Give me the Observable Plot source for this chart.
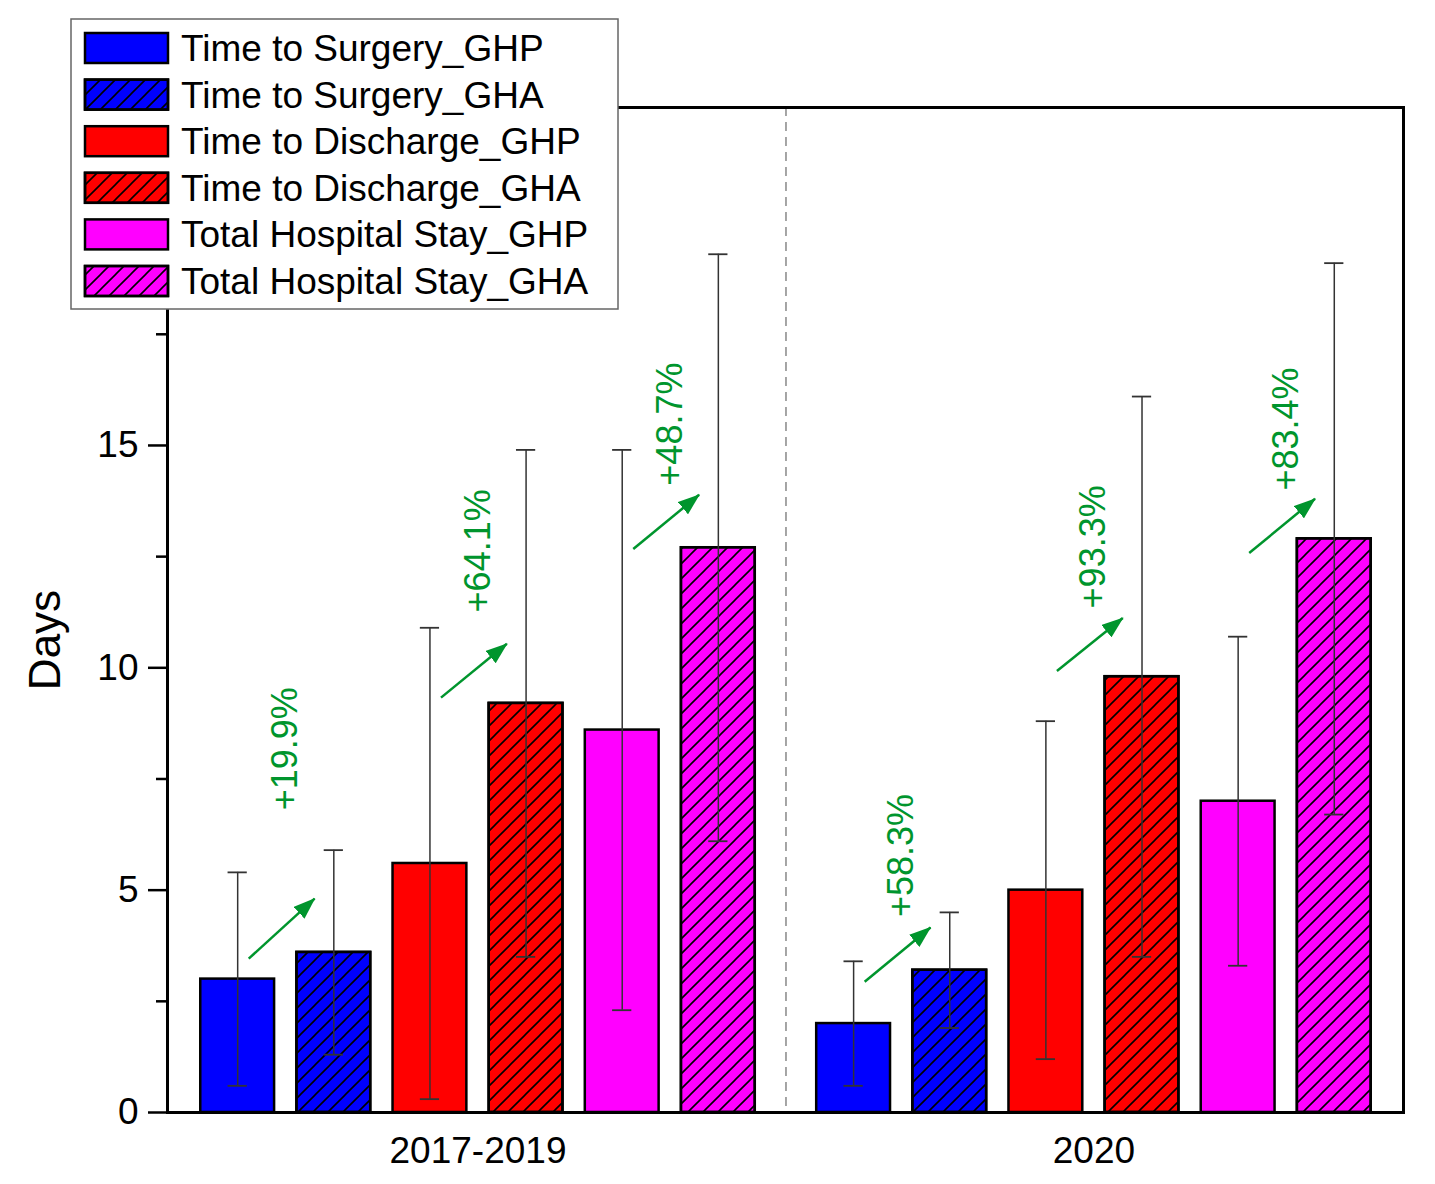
<!DOCTYPE html>
<html>
<head>
<meta charset="utf-8">
<script src="https://cdn.jsdelivr.net/npm/d3@7"></script>
<script src="https://cdn.jsdelivr.net/npm/@observablehq/plot@0.6"></script>
<style>
  html, body { margin: 0; padding: 0; background: #fff; }
  #chart { position: relative; width: 1435px; height: 1184px; }
</style>
</head>
<body>
<div id="chart"></div>
<script>
// ---- data ----
const groups = ["2017-2019", "2020"];
const series = [
  "Time to Surgery_GHP", "Time to Surgery_GHA",
  "Time to Discharge_GHP", "Time to Discharge_GHA",
  "Total Hospital Stay_GHP", "Total Hospital Stay_GHA"
];
const seriesColors = ["#0000ff", "#0000ff", "#ff0000", "#ff0000", "#ff00ff", "#ff00ff"];
const seriesHatched = [false, true, false, true, false, true];

const means2017 = [3.0, 3.6, 5.6, 9.2, 8.6, 12.7];
const sd2017    = [2.4, 2.3, 5.3, 5.7, 6.3, 6.6];
const means2020 = [2.0, 3.2, 5.0, 9.8, 7.0, 12.9];
const sd2020    = [1.4, 1.3, 3.8, 6.3, 3.7, 6.2];

// percentage-increase annotations (GHP -> GHA), per group
const pct2017 = ["+19.9%", "+64.1%", "+48.7%"];
const pct2020 = ["+58.3%", "+93.3%", "+83.4%"];
const arrowFrom2017 = [3.46, 9.33, 12.67];
const arrowTo2017   = [4.81, 10.54, 13.89];
const arrowFrom2020 = [2.94, 9.93, 12.58];
const arrowTo2020   = [4.16, 11.12, 13.80];
const labelY2017 = [8.18, 12.63, 15.48];
const labelY2020 = [5.78, 12.72, 15.37];

const yMajorTicks = [0, 5, 10, 15, 20];
const yMinorTicks = [2.5, 7.5, 12.5, 17.5];

// ---- layout ----
const G = 6.407;        // group spacing in bar steps
const halfBar = 0.384;  // half bar width in bar steps
const capHalf = 0.1;
const green = "#00952d";
const font = "'Liberation Sans', Arial, sans-serif";

const meansAll = [means2017, means2020];
const sdAll = [sd2017, sd2020];
const rows = groups.flatMap((g, gi) => series.map((s, i) => ({
  group: g, series: s, pos: gi * G + i,
  mean: meansAll[gi][i], sd: sdAll[gi][i],
  color: seriesColors[i], hatched: seriesHatched[i]
})));

const pctAll = [pct2017, pct2020];
const fromAll = [arrowFrom2017, arrowFrom2020];
const toAll = [arrowTo2017, arrowTo2020];
const labAll = [labelY2017, labelY2020];
const notes = groups.flatMap((g, gi) => [0, 1, 2].map(k => ({
  x1: gi * G + 2 * k + 0.115,
  x2: gi * G + 2 * k + 1 - 0.2,
  y1: fromAll[gi][k], y2: toAll[gi][k],
  lx: gi * G + 2 * k + 0.5, ly: labAll[gi][k],
  text: pctAll[gi][k]
})));

const svg = Plot.plot({
  width: 1435,
  height: 1184,
  marginLeft: 167,
  marginRight: 32,
  marginTop: 107,
  marginBottom: 72,
  style: { fontFamily: font, color: "#000", background: "#fff" },
  x: { domain: [-0.73, G + 5 + 0.72], axis: null },
  y: { domain: [0, 22.6], axis: null },
  color: { type: "identity" },
  marks: [
    Plot.ruleX([G / 2 + 2.5], { stroke: "#888", strokeWidth: 1.5, strokeDasharray: "9,6" }),
    Plot.rectY(rows, { x1: d => d.pos - halfBar, x2: d => d.pos + halfBar, y1: 0, y2: "mean",
      fill: "color", stroke: "#000", strokeWidth: 2.5 }),
    Plot.rectY(rows.filter(d => d.hatched), { x1: d => d.pos - halfBar, x2: d => d.pos + halfBar, y1: 0, y2: "mean",
      fill: "url(#hatch)", stroke: "#000", strokeWidth: 2.5 }),
    Plot.ruleX(rows, { x: "pos", y1: d => d.mean - d.sd, y2: d => d.mean + d.sd, stroke: "#333", strokeWidth: 1.5 }),
    Plot.ruleY(rows, { y: d => d.mean + d.sd, x1: d => d.pos - capHalf, x2: d => d.pos + capHalf, stroke: "#333", strokeWidth: 1.8 }),
    Plot.ruleY(rows, { y: d => d.mean - d.sd, x1: d => d.pos - capHalf, x2: d => d.pos + capHalf, stroke: "#333", strokeWidth: 1.8 }),
    Plot.link(notes, { x1: "x1", y1: "y1", x2: "x2", y2: "y2", stroke: green, strokeWidth: 2.5 }),
    Plot.text(notes, { x: "lx", y: "ly", text: "text", rotate: -90, fill: green, fontSize: 36,
      textAnchor: "middle", lineAnchor: "middle" }),
    Plot.axisY({ ticks: yMajorTicks, tickSize: 19, tickPadding: 10, fontSize: 37, label: null, strokeWidth: 2.5 }),
    Plot.axisY({ ticks: yMinorTicks, tickSize: 11, tickFormat: () => "", label: null, strokeWidth: 2.5 }),
    Plot.axisX({ ticks: [2.5, G + 2.5], tickFormat: d => groups[Math.round((d - 2.5) / G)], tickSize: 0,
      tickPadding: 24, fontSize: 37, label: null }),
    Plot.text(["Days"], { frameAnchor: "left", dx: -122, dy: 30, rotate: -90, fontSize: 44,
      textAnchor: "middle", lineAnchor: "middle", text: d => d }),
    Plot.frame({ stroke: "#000", strokeWidth: 3 })
  ]
});

// pattern & arrowhead defs
const sel = d3.select(svg);
const defs = sel.insert("defs", ":first-child");
const pat = defs.append("pattern").attr("id", "hatch").attr("patternUnits", "userSpaceOnUse")
  .attr("width", 15).attr("height", 15);
pat.append("path").attr("d", "M0,15 l15,-15 M-3.75,3.75 l7.5,-7.5 M11.25,18.75 l7.5,-7.5")
  .attr("stroke", "#000").attr("stroke-width", 1.6).attr("fill", "none");
defs.append("marker").attr("id", "ah").attr("viewBox", "0 0 22 16").attr("refX", 21).attr("refY", 8)
  .attr("markerWidth", 22).attr("markerHeight", 16).attr("markerUnits", "userSpaceOnUse").attr("orient", "auto")
  .append("path").attr("d", "M0,0 L22,8 L0,16 Z").attr("fill", green);
sel.selectAll('g[aria-label="link"] path').attr("marker-end", "url(#ah)");

// legend (on top of the plot)
const lg = sel.append("g").attr("transform", "translate(71,19)");
lg.append("rect").attr("width", 547).attr("height", 290).attr("fill", "#fff")
  .attr("stroke", "#666").attr("stroke-width", 1.5);
series.forEach((s, i) => {
  const cy = 29 + i * 46.6;
  lg.append("rect").attr("x", 14).attr("y", cy - 15).attr("width", 83).attr("height", 30)
    .attr("fill", seriesColors[i]).attr("stroke", "#000").attr("stroke-width", 2.5);
  if (seriesHatched[i]) {
    lg.append("rect").attr("x", 14).attr("y", cy - 15).attr("width", 83).attr("height", 30)
      .attr("fill", "url(#hatch)").attr("stroke", "#000").attr("stroke-width", 2.5);
  }
  lg.append("text").attr("x", 110).attr("y", cy).attr("dy", "0.35em")
    .attr("text-anchor", "start")
    .attr("font-family", font).attr("font-size", 37).attr("fill", "#000").text(s);
});

document.getElementById("chart").appendChild(svg);
</script>
</body>
</html>
